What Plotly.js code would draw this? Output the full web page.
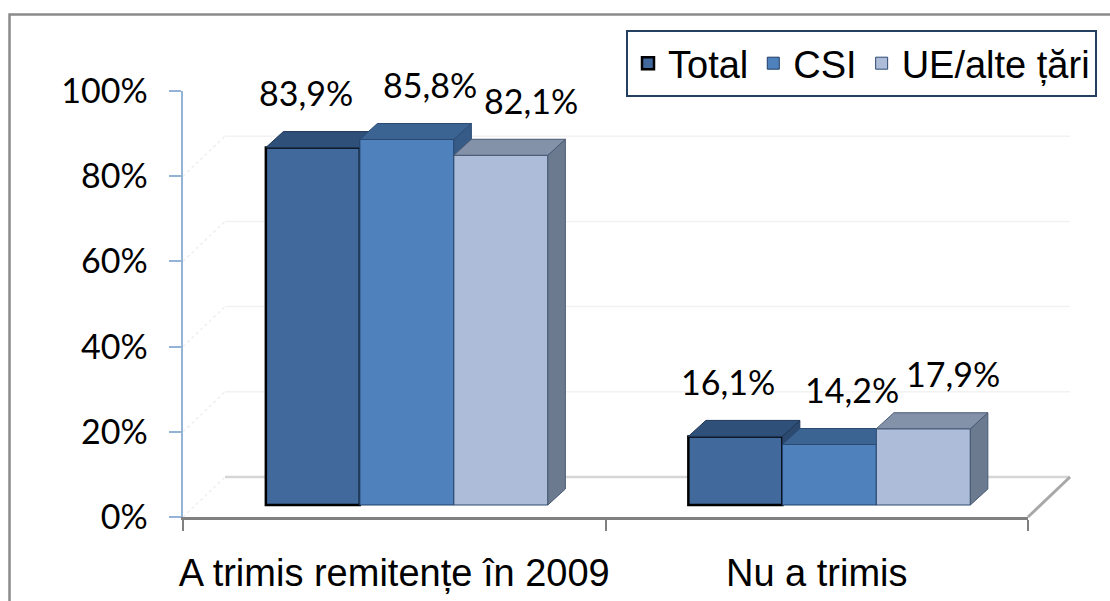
<!DOCTYPE html>
<html>
<head>
<meta charset="utf-8">
<script src="https://cdn.plot.ly/plotly-3.0.1.min.js"></script>
<style>html,body{margin:0;padding:0;background:#fff;}#chart{width:1110px;height:601px;}</style>
</head>
<body>
<div id="chart"></div>
<script>
// ---- data ----
const categories = ['A trimis remitențe în 2009', 'Nu a trimis'];
const seriesNames = ['Total', 'CSI', 'UE/alte țări'];
const totalValues = [83.9, 16.1];
const csiValues = [85.8, 14.2];
const ueValues = [82.1, 17.9];
const yTickValues = [0, 20, 40, 60, 80, 100];
const yTickLabels = ['0%', '20%', '40%', '60%', '80%', '100%'];

// ---- styles / geometry ----
const seriesValues = [totalValues, csiValues, ueValues];
const styles = [
  {front: '#41699c', top: '#2f5079', side: '#2c4a70', line: '#000000', lw: 2.5, faceLine: '#1e3656', xshift: -7},
  {front: '#4f81bd', top: '#3c6493', side: '#375b87', line: '#1f3d66', lw: 1, faceLine: '#2a4a74', xshift: 23},
  {front: '#adbcd9', top: '#8391a9', side: '#6b7a8f', line: '#2c4a72', lw: 1, faceLine: '#4a5a73', xshift: 30}
];
const PX_X = 422.5;          // px per category unit
const PX_Y = 4.26;           // px per percent
const barW = 94 / PX_X;
const offsets = [-1.5 * barW, -0.5 * barW, 0.5 * barW];
const DX = 17.5 / PX_X, DY = 16 / PX_Y;       // 3D depth of bars
const XS = 12.6 / PX_X, YS = 12 / PX_Y;       // bar plane shift
const labelFont = {family: 'Lato, "Open Sans", sans-serif', size: 34, color: '#000'};
const textFont = {family: '"Liberation Sans", Arial, sans-serif', size: 38, color: '#000'};

// decoration helpers (paper coordinates of the 3D box)
const plotL = 183, plotW = 887, plotB = 517, plotH = 426;
const px = p => (p - plotL) / plotW;
const py = p => (plotB - p) / plotH;
const xDomain = [0, px(1028)];

const traces = [{type: 'scatter', mode: 'markers', x: [], y: [], xaxis: 'x', yaxis: 'y',
  showlegend: false, hoverinfo: 'skip'}];
const annotations = [];
seriesValues.forEach((vals, s) => {
  const k = s + 2;
  const xa = 'x' + k, ya = 'y' + k;
  const st = styles[s];
  const xs = categories.map((c, i) => i);
  traces.push({
    type: 'bar', name: seriesNames[s], x: xs, y: vals, width: barW, offset: offsets[s],
    xaxis: xa, yaxis: ya,
    marker: {color: st.front, line: {color: st.line, width: st.lw}},
    hoverinfo: 'skip', showlegend: true
  });
  const topX = [], topY = [], sideX = [], sideY = [];
  vals.forEach((v, i) => {
    const x0 = i + offsets[s], x1 = x0 + barW;
    topX.push(x0, x1, x1 + DX, x0 + DX, x0, null);
    topY.push(v, v, v + DY, v + DY, v, null);
    sideX.push(x1, x1, x1 + DX, x1 + DX, x1, null);
    sideY.push(0, v, v + DY, DY, 0, null);
    annotations.push({
      xref: xa, yref: ya, x: x0 + barW / 2, y: v, text: v.toFixed(1).replace('.', ',') + '%',
      showarrow: false, yanchor: 'middle', xanchor: 'center', yshift: 55, xshift: st.xshift, font: labelFont
    });
  });
  traces.push({type: 'scatter', mode: 'lines', x: sideX, y: sideY, xaxis: xa, yaxis: ya, fill: 'toself',
    fillcolor: st.side, line: {color: st.faceLine, width: 1}, hoverinfo: 'skip', showlegend: false});
  traces.push({type: 'scatter', mode: 'lines', x: topX, y: topY, xaxis: xa, yaxis: ya, fill: 'toself',
    fillcolor: st.top, line: {color: st.faceLine, width: 1}, hoverinfo: 'skip', showlegend: false});
});

const shapes = [];
yTickValues.slice(0, -1).forEach((g, idx) => {
  const yb = g / 100, yt = g / 100 + 40 / plotH;
  shapes.push({type: 'line', xref: 'paper', yref: 'paper', x0: px(225), x1: px(1070), y0: yt, y1: yt,
    line: {color: idx === 0 ? '#d6d6d6' : '#f2f2f2', width: idx === 0 ? 2.5 : 1.5}, layer: 'below'});
  shapes.push({type: 'line', xref: 'paper', yref: 'paper', x0: 0, x1: px(225), y0: yb, y1: yt,
    line: {color: '#efefef', width: 1.5, dash: 'dot'}, layer: 'below'});
});
shapes.push({type: 'line', xref: 'paper', yref: 'paper', x0: px(1028), x1: px(1070), y0: 0, y1: py(477),
  line: {color: '#a8a8a8', width: 3}, layer: 'below'});
shapes.push({type: 'path', xref: 'paper', yref: 'paper',
  path: `M ${px(9.5)},${py(610)} L ${px(9.5)},${py(14.5)} L ${px(1115)},${py(14.5)}`,
  line: {color: '#8a8a8a', width: 2.5}});

const layout = {
  width: 1110, height: 601,
  margin: {l: 183, r: 40, t: 91, b: 84},
  paper_bgcolor: '#ffffff', plot_bgcolor: 'rgba(0,0,0,0)',
  showlegend: true,
  legend: {orientation: 'h', x: px(626), xanchor: 'left', y: py(30), yanchor: 'top',
    bordercolor: '#243f60', borderwidth: 2, bgcolor: '#ffffff', font: textFont, traceorder: 'normal'},
  xaxis: {domain: xDomain, range: [-0.5, 1.5], tickmode: 'array', tickvals: categories.map((c, i) => i),
    ticktext: categories, ticks: '', showline: true, linecolor: '#808080', linewidth: 3, showgrid: false,
    zeroline: false, tickfont: textFont, ticklabelstandoff: 20,
    minor: {tickmode: 'linear', tick0: 0.5, dtick: 1, ticks: 'outside', ticklen: 11, tickwidth: 2,
      tickcolor: '#808080', showgrid: false}},
  yaxis: {range: [0, 100], tickmode: 'array', tickvals: yTickValues, ticktext: yTickLabels,
    ticks: 'outside', ticklen: 12, tickwidth: 2, tickcolor: '#95b3d7', showline: true, linecolor: '#95b3d7',
    linewidth: 2.5, showgrid: false, zeroline: false, tickfont: labelFont, ticklabelstandoff: 14},
  shapes: shapes,
  annotations: annotations
};
[2, 3, 4].forEach(k => {
  layout['xaxis' + k] = {overlaying: 'x', anchor: 'y' + k, domain: xDomain, range: [-0.5 - XS, 1.5 - XS],
    visible: false, showgrid: false, zeroline: false};
  layout['yaxis' + k] = {overlaying: 'y', anchor: 'x' + k, range: [-YS, 100 - YS], visible: false,
    showgrid: false, zeroline: false};
});

Plotly.newPlot('chart', traces, layout, {displayModeBar: false, staticPlot: true});
</script>
</body>
</html>
